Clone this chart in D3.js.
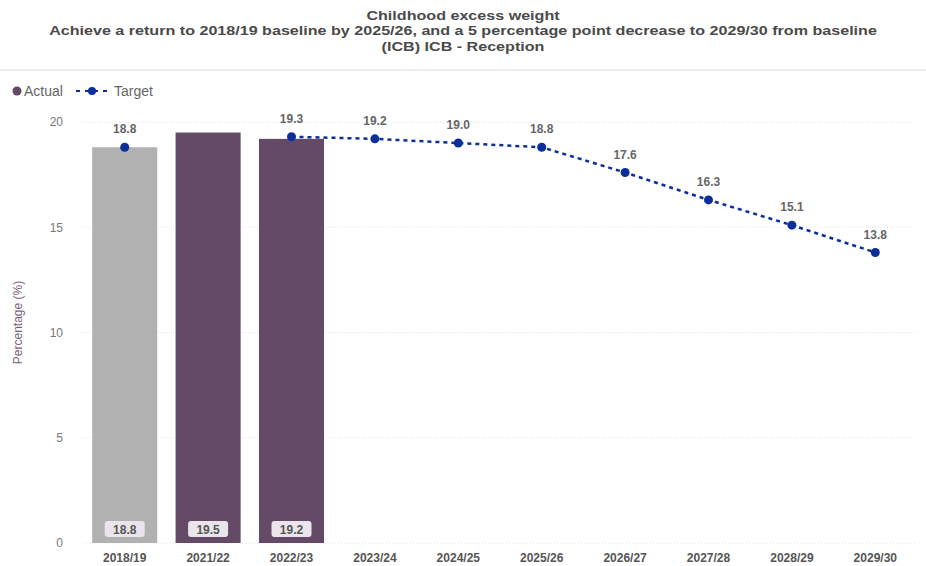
<!DOCTYPE html>
<html>
<head>
<meta charset="utf-8">
<script src="https://cdn.jsdelivr.net/npm/d3@7"></script>
<style>
  body { margin: 0; background: #fff; font-family: "Liberation Sans", Arial, sans-serif; }
  .title { font-size: 13px; font-weight: bold; fill: #4a4a4a; text-anchor: middle; }
  .grid line { stroke: #e2e2e2; stroke-dasharray: 1,2; }
  .axis text { fill: #777; font-size: 12px; }
  .xaxis text { fill: #555; font-size: 12px; font-weight: bold; }
</style>
</head>
<body>
<div class="container"></div>
<script>
var years = ["2018/19", "2021/22", "2022/23", "2023/24", "2024/25", "2025/26", "2026/27", "2027/28", "2028/29", "2029/30"];
var actual = [18.8, 19.5, 19.2, null, null, null, null, null, null, null];
var target = [18.8, null, 19.3, 19.2, 19.0, 18.8, 17.6, 16.3, 15.1, 13.8];
var yTicks = [0, 5, 10, 15, 20];

var W = 926, H = 566;
var margin = {top: 122, right: 9, bottom: 23, left: 83};
var width = W - margin.left - margin.right;
var height = H - margin.top - margin.bottom;

var svg = d3.select(".container").append("svg")
    .attr("width", W).attr("height", H);

var titles = ["Childhood excess weight",
  "Achieve a return to 2018/19 baseline by 2025/26, and a 5 percentage point decrease to 2029/30 from baseline",
  "(ICB) ICB - Reception"];
svg.append("g").attr("transform", "translate(" + (W / 2) + ",0) scale(1.24,1)")
  .selectAll(".title").data(titles).enter().append("text")
    .attr("class", "title")
    .attr("x", 0)
    .attr("y", function(d, i) { return 20 + i * 15.5; })
    .text(function(d) { return d; });

svg.append("line").attr("x1", 0).attr("x2", W).attr("y1", 70).attr("y2", 70)
    .attr("stroke", "#eee").attr("stroke-width", 2);

// legend
var leg = svg.append("g").attr("transform", "translate(0,91)");
leg.append("circle").attr("cx", 17).attr("cy", 0).attr("r", 4.5).attr("fill", "#654a67");
leg.append("text").attr("x", 24).attr("y", 5).attr("font-size", 14).attr("fill", "#666").text("Actual");
leg.append("line").attr("x1", 76).attr("x2", 108).attr("y1", 0).attr("y2", 0)
    .attr("stroke", "#0b2f9a").attr("stroke-width", 2).attr("stroke-dasharray", "4,5");
leg.append("circle").attr("cx", 92).attr("cy", 0).attr("r", 4).attr("fill", "#0b2f9a");
leg.append("text").attr("x", 114).attr("y", 5).attr("font-size", 14).attr("fill", "#666").text("Target");

var g = svg.append("g").attr("transform", "translate(" + margin.left + "," + margin.top + ")");

var x = d3.scaleBand().domain(years).range([0, width]).paddingInner(0.22).paddingOuter(0.11);
var y = d3.scaleLinear().domain([0, 20]).range([height, 0]);

g.append("g").attr("class", "grid")
    .selectAll("line").data(yTicks).enter().append("line")
    .attr("x1", 0).attr("x2", width)
    .attr("y1", function(d) { return y(d); }).attr("y2", function(d) { return y(d); });

var yAxis = g.append("g").attr("class", "axis")
    .attr("transform", "translate(-20,0)")
    .call(d3.axisLeft(y).tickValues(yTicks).tickSize(0).tickPadding(0));
yAxis.select(".domain").remove();

var xAxis = g.append("g").attr("class", "xaxis")
    .attr("transform", "translate(0," + height + ")")
    .call(d3.axisBottom(x).tickSize(0).tickPadding(10));
xAxis.select(".domain").remove();

svg.append("text")
    .attr("transform", "translate(22," + (margin.top + height / 2 - 10) + ") rotate(-90)")
    .attr("text-anchor", "middle").attr("font-size", 12).attr("fill", "#7a5f7c")
    .text("Percentage (%)");

var barData = years.map(function(d, i) { return {year: d, value: actual[i], i: i}; })
    .filter(function(d) { return d.value != null; });

g.selectAll(".bar").data(barData).enter().append("rect")
    .attr("x", function(d) { return x(d.year); })
    .attr("width", x.bandwidth())
    .attr("y", function(d) { return y(d.value); })
    .attr("height", function(d) { return height - y(d.value); })
    .attr("fill", function(d) { return d.i === 0 ? "#b1b1b1" : "#654a67"; });

var lbl = g.selectAll(".blabel").data(barData).enter().append("g")
    .attr("transform", function(d) { return "translate(" + (x(d.year) + x.bandwidth() / 2) + "," + (height - 14) + ")"; });
lbl.append("rect").attr("x", -20).attr("y", -8).attr("width", 40).attr("height", 16).attr("rx", 3)
    .attr("fill", "#e9e5ea");
lbl.append("text").attr("text-anchor", "middle").attr("y", 4.5).attr("font-size", 12)
    .attr("font-weight", "bold").attr("fill", "#555")
    .text(function(d) { return d.value.toFixed(1); });

var tData = years.map(function(d, i) { return {year: d, value: target[i], i: i}; })
    .filter(function(d) { return d.value != null; });
var cx = function(d) { return x(d.year) + x.bandwidth() / 2; };

var line = d3.line().x(cx).y(function(d) { return y(d.value); });
g.append("path").datum(tData.filter(function(d) { return d.i >= 2; }))
    .attr("d", line).attr("fill", "none")
    .attr("stroke", "#0b2f9a").attr("stroke-width", 2.5).attr("stroke-dasharray", "4,4");

g.selectAll(".pt").data(tData).enter().append("circle")
    .attr("cx", cx).attr("cy", function(d) { return y(d.value); })
    .attr("r", 4.5).attr("fill", "#0b2f9a");

g.selectAll(".tlabel").data(tData).enter().append("text")
    .attr("x", cx).attr("y", function(d) { return y(d.value) - 14; })
    .attr("text-anchor", "middle").attr("font-size", 12).attr("font-weight", "bold").attr("fill", "#666")
    .text(function(d) { return d.value.toFixed(1); });
</script>
</body>
</html>
